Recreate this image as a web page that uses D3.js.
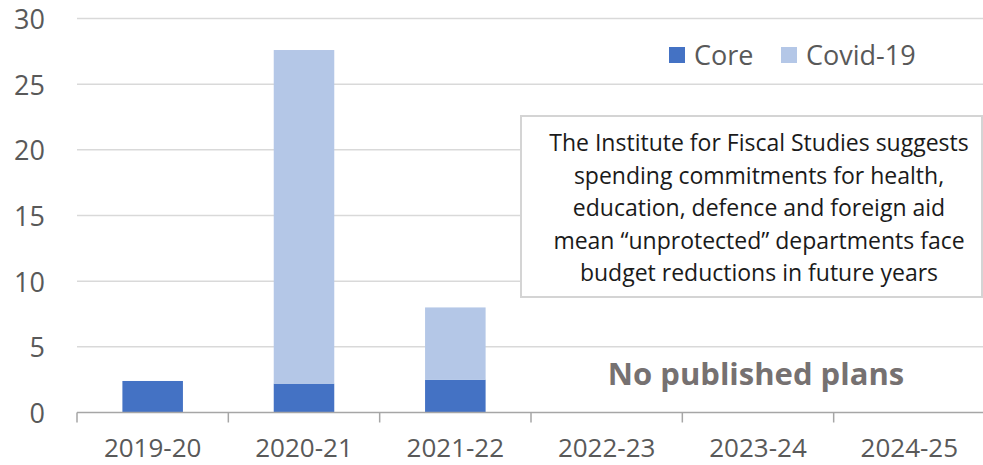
<!DOCTYPE html>
<html>
<head>
<meta charset="utf-8">
<script src="https://cdn.jsdelivr.net/npm/d3@7"></script>
<style>
  html, body { margin: 0; padding: 0; background: #fff; }
  svg { display: block; }
  text { font-family: "Open Sans", "Noto Sans", sans-serif; }
</style>
</head>
<body>
<svg id="chart" width="983" height="465"></svg>
<script>
// Financial years on the x axis
const years = ["2019-20", "2020-21", "2021-22", "2022-23", "2023-24", "2024-25"];
// Core spending (£bn)
const core = [2.4, 2.2, 2.5, 0, 0, 0];
// Covid-19 spending (£bn)
const covid = [0, 25.4, 5.5, 0, 0, 0];
// Y axis ticks
const yTicks = [0, 5, 10, 15, 20, 25, 30];
// Series names and colours
const seriesNames = ["Core", "Covid-19"];
const seriesColors = ["#4472c4", "#b4c7e7"];
// Annotation text
const noteLines = [
  "The Institute for Fiscal Studies suggests",
  "spending commitments for health,",
  "education, defence and foreign aid",
  "mean \u201cunprotected\u201d departments face",
  "budget reductions in future years"
];
const noPlansLabel = "No published plans";

const svg = d3.select("#chart");

const x0 = 77, x1 = 985, yBase = 412.5, yTop = 18.5;

const xBand = d3.scaleBand().domain(years).range([x0, x1]).padding(0);
const xBar = d3.scaleBand().domain(years).range([x0, x1]).paddingInner(0.6).paddingOuter(0.3);
const y = d3.scaleLinear().domain([0, 30]).range([yBase, yTop]);

// gridlines
svg.append("g").selectAll("line").data(yTicks.filter(d => d > 0)).join("line")
  .attr("x1", x0).attr("x2", x1)
  .attr("y1", d => y(d)).attr("y2", d => y(d))
  .attr("stroke", "#d9d9d9").attr("stroke-width", 1.5);

// y tick labels
svg.append("g").selectAll("text").data(yTicks).join("text")
  .attr("x", 45).attr("y", d => y(d))
  .attr("text-anchor", "end").attr("dominant-baseline", "central")
  .attr("font-size", 27).attr("fill", "#595959")
  .text(d => d);

// stacked bars
const rows = years.map((yr, i) => ({ year: yr, Core: core[i], "Covid-19": covid[i] }));
const stacked = d3.stack().keys(seriesNames)(rows);
svg.append("g").selectAll("g").data(stacked).join("g")
  .attr("fill", (d, i) => seriesColors[i])
  .selectAll("rect").data(d => d.filter(p => p[1] - p[0] > 0)).join("rect")
  .attr("x", p => xBar(p.data.year))
  .attr("width", xBar.bandwidth())
  .attr("y", p => y(p[1]))
  .attr("height", p => y(p[0]) - y(p[1]));

// x axis line and ticks at band boundaries
const axis = svg.append("g");
axis.append("line").attr("x1", x0).attr("x2", x1).attr("y1", yBase).attr("y2", yBase)
  .attr("stroke", "#a6a6a6").attr("stroke-width", 1.5);
axis.selectAll("line.tick").data(years).join("line").attr("class", "tick")
  .attr("x1", d => xBand(d)).attr("x2", d => xBand(d))
  .attr("y1", yBase).attr("y2", yBase + 10)
  .attr("stroke", "#a6a6a6").attr("stroke-width", 1.5);
axis.selectAll("text").data(years).join("text")
  .attr("x", d => xBand(d) + xBand.bandwidth() / 2)
  .attr("y", 457)
  .attr("text-anchor", "middle")
  .attr("font-size", 26).attr("fill", "#595959")
  .text(d => d);

// legend
const legend = svg.append("g");
const legendItems = [{ x: 669, tx: 694 }, { x: 781, tx: 806 }];
seriesNames.forEach((name, i) => {
  legend.append("rect").attr("x", legendItems[i].x).attr("y", 47)
    .attr("width", 16).attr("height", 16).attr("fill", seriesColors[i]);
  legend.append("text").attr("x", legendItems[i].tx).attr("y", 54)
    .attr("dominant-baseline", "central")
    .attr("font-size", 27).attr("fill", "#595959").text(name);
});

// annotation box
const note = svg.append("g");
note.append("rect").attr("x", 521).attr("y", 116).attr("width", 461).attr("height", 181)
  .attr("fill", "#fff").attr("stroke", "#d4d4d4").attr("stroke-width", 2);
note.selectAll("text").data(noteLines).join("text")
  .attr("x", 759).attr("y", (d, i) => 142 + i * 32.5)
  .attr("text-anchor", "middle").attr("dominant-baseline", "central")
  .attr("font-size", 23).attr("fill", "#1a1a1a")
  .text(d => d);

// label over the unplanned years
svg.append("text").attr("x", 756).attr("y", 373)
  .attr("text-anchor", "middle").attr("dominant-baseline", "central")
  .attr("font-size", 31).attr("font-weight", "bold").attr("fill", "#767171")
  .text(noPlansLabel);
</script>
</body>
</html>
